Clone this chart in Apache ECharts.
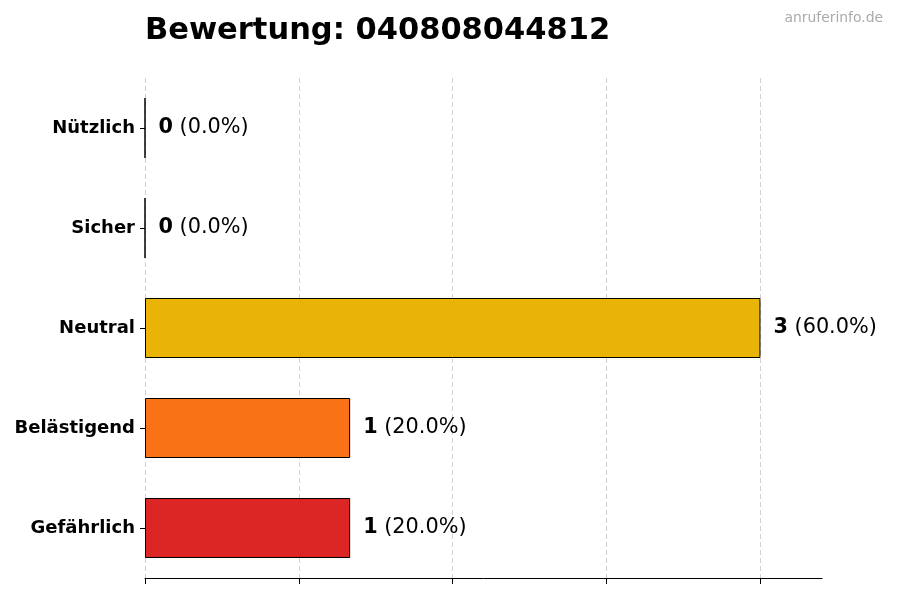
<!DOCTYPE html>
<html><head><meta charset="utf-8">
<script src="https://cdn.jsdelivr.net/npm/echarts@6/dist/echarts.min.js"></script>
<style>html,body{margin:0;padding:0;background:#fff}#c{width:900px;height:600px}</style>
</head><body><div id="c"></div>
<script>
const categories = ['Nützlich', 'Sicher', 'Neutral', 'Belästigend', 'Gefährlich'];
const values = [0, 0, 3, 1, 1];
const colors = ['#16A34A', '#2563EB', '#EAB308', '#F97316', '#DC2626'];
const xTicks = [0, 0.75, 1.5, 2.25, 3.0];
const titleText = 'Bewertung: 040808044812';
const watermark = 'anruferinfo.de';

const total = values.reduce((a, b) => a + b, 0);
const font = 'DejaVu Sans';
const chart = echarts.init(document.getElementById('c'), null, {renderer: 'canvas'});
chart.setOption({
  animation: false,
  backgroundColor: '#fff',
  title: [
    {text: titleText, left: 145, top: 16, padding: 0, textStyle: {fontFamily: font, fontSize: 30.5, fontWeight: 'bold', color: '#000'}},
    {text: watermark, right: 17, top: 11, padding: 0, textStyle: {fontFamily: font, fontSize: 13.9, fontWeight: 'normal', color: '#aaaaaa'}}
  ],
  grid: {left: 145, right: 78, top: 78, bottom: 22, containLabel: false},
  xAxis: {
    type: 'value', min: 0, max: 3.3, interval: 0.75,
    axisLabel: {show: false},
    axisLine: {show: true, lineStyle: {color: '#000', width: 1}},
    axisTick: {show: true, length: 6, customValues: xTicks, lineStyle: {color: '#000'}},
    splitLine: {show: true, lineStyle: {color: '#d0d0d0', type: [5, 3], width: 1}}
  },
  yAxis: {
    type: 'category', inverse: true, data: categories,
    axisLine: {show: false},
    axisTick: {show: true, alignWithLabel: true, length: 5, lineStyle: {color: '#000'}},
    axisLabel: {fontFamily: font, fontSize: 18, fontWeight: 'bold', color: '#000', margin: 10}
  },
  series: [{
    type: 'bar',
    barCategoryGap: '40%',
    data: values.map((v, i) => ({value: v, itemStyle: {color: colors[i]}})),
    itemStyle: {borderColor: '#000', borderWidth: 1},
    label: {
      show: true, position: 'right', distance: 13, color: '#000',
      formatter: p => '{b|' + p.value + '}{n| (' + (total ? (p.value / total * 100) : 0).toFixed(1) + '%)}',
      rich: {
        b: {fontFamily: font, fontSize: 20.8, fontWeight: 'bold', color: '#000'},
        n: {fontFamily: font, fontSize: 20.8, color: '#000'}
      }
    }
  }]
});
</script></body></html>
